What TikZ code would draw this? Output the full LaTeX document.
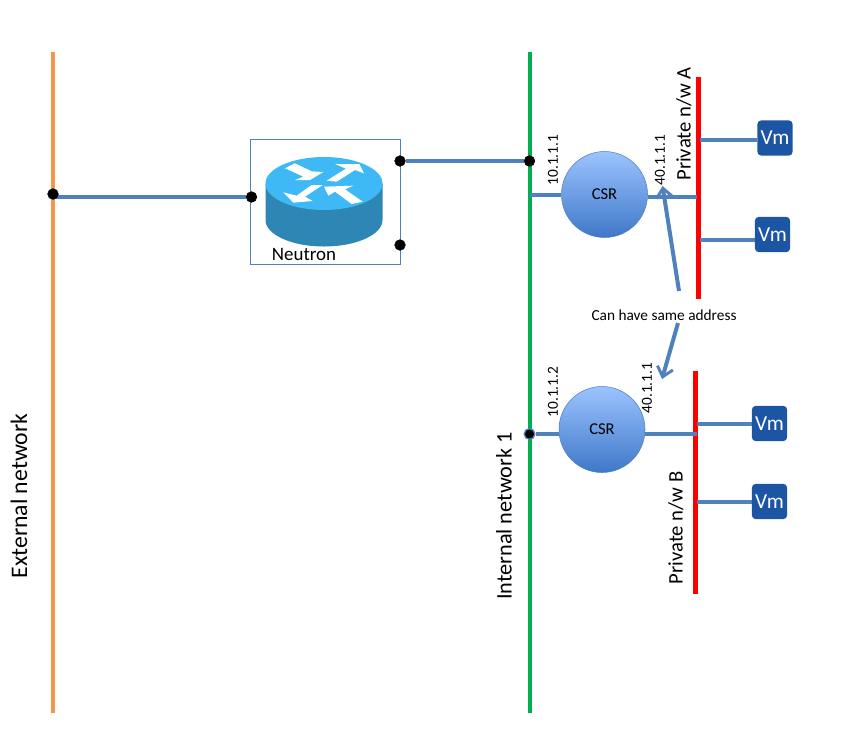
\documentclass[tikz,border=0pt]{standalone}
\usepackage{fontspec}
\setmainfont{Carlito}
\usetikzlibrary{arrows.meta, positioning, backgrounds}
\definecolor{linkblue}{HTML}{4F81BD}
\definecolor{vmblue}{HTML}{1B55A3}
\definecolor{busorange}{HTML}{F79646}
\definecolor{busgreen}{HTML}{00B050}
\definecolor{csrtop}{HTML}{9CC3FF}
\definecolor{csrbot}{HTML}{3F78C8}
\definecolor{routerside}{HTML}{2D86B4}
\definecolor{routertop}{HTML}{3EB9F5}
\tikzset{
  bus/.style={line width=3pt},
  privbus/.style={line width=3.75pt, red},
  link/.style={line width=3pt, draw=linkblue},
  dot/.style={circle, fill=black, draw=black, inner sep=0pt, minimum size=8pt},
  csr/.style={circle, draw=linkblue, minimum size=64.5pt, inner sep=0pt, top color=csrtop, bottom color=csrbot, font=\fontsize{12.4pt}{14pt}\selectfont},
  vm/.style={rounded corners=3pt, fill=vmblue, text=white, minimum width=26.5pt, minimum height=26.5pt, inner sep=0pt, font=\fontsize{16pt}{18pt}\selectfont},
  addr/.style={rotate=90, inner sep=0pt, font=\fontsize{11.5pt}{13pt}\selectfont},
  netname/.style={rotate=90, inner sep=0pt},
  note/.style={line width=3pt, draw=linkblue, -{Straight Barb[length=7pt,width=12pt,line width=2.2pt]}}
}
\begin{document}
\begin{tikzpicture}[x=0.75pt,y=-0.75pt]
\useasboundingbox (0,0) rectangle (848,736);
% router
\node[draw=linkblue, minimum width=112.5pt, minimum height=93.4pt, inner sep=0pt] (neutron) at (325.5,201.75) {};
\fill[routerside] (265.5,183.5) -- (265.5,220) arc[start angle=180, end angle=0, x radius=58.5, y radius=26.5] -- (382.5,183.5) -- cycle;
\fill[routertop] (324,183.5) ellipse[x radius=58.5, y radius=26.5];
\begin{scope}[shift={(240,130)}, x=0.25pt, y=-0.25pt]
\fill[white] (135,115) -- (165,100) -- (215,124) -- (250,126) -- (210,150) -- (165,150) -- (190,140) -- cycle;
\fill[white] (260,152) -- (318,116) -- (285,102) -- (358,102) -- (372,130) -- (345,120) -- (290,155) -- cycle;
\fill[white] (248,165) -- (195,200) -- (218,213) -- (160,218) -- (130,187) -- (170,197) -- (215,165) -- cycle;
\fill[white] (252,170) -- (340,167) -- (315,178) -- (368,215) -- (335,222) -- (285,185) -- (265,197) -- cycle;
\end{scope}
\node[inner sep=0pt, font=\fontsize{14.2pt}{16pt}\selectfont] (neutronlabel) at (304,254) {Neutron};

% dots
\node[dot] (extdot) at (53,194) {};
\node[dot] (neutronw) at (251.5,197) {};
\node[dot] (neutronne) at (400,161) {};
\node[dot] (neutronse) at (400,245) {};
\node[dot] (intdota) at (529.5,161) {};
\node[dot, draw=linkblue, line width=1pt] (intdotb) at (529.5,434) {};

% csr
\node[csr] (csra) at (604.5,194.5) {CSR};
\node[csr] (csrb) at (602,429.5) {CSR};

% vm
\node[vm] (vma) at (775,138) {Vm};
\node[vm] (vmb) at (772.5,234.5) {Vm};
\node[vm] (vmc) at (769.5,423.5) {Vm};
\node[vm] (vmd) at (769.5,501.5) {Vm};

% networks
\coordinate (exttop) at (53,52);
\coordinate (extbot) at (53,713);
\coordinate (inttop) at (529.5,52);
\coordinate (intbot) at (529.5,713);
\coordinate (privatop) at (698.5,77);
\coordinate (privabot) at (698.5,299);
\coordinate (privbtop) at (695.5,371);
\coordinate (privbbot) at (695.5,594);
\coordinate (inta) at (529.5,194.5);
\coordinate (extjoin) at (53,197);
\coordinate (privain) at (697,196.5);
\coordinate (privbin) at (697,434);
\coordinate (vmaleft) at (700,140);
\coordinate (vmbleft) at (700,240);
\coordinate (vmcleft) at (697,424);
\coordinate (vmdleft) at (697,502);

% links
\begin{scope}[on background layer]
\draw[bus, busorange] (exttop) -- (extbot);
\draw[bus, busgreen] (inttop) -- (intbot);
\draw[privbus] (privatop) -- (privabot);
\draw[privbus] (privbtop) -- (privbbot);
\draw[link] (extjoin) -- (neutronw);
\draw[link] (neutronne) -- (intdota);
\draw[link] (inta) -- (csra);
\draw[link] (csra.east |- privain) -- (privain);
\draw[link] (intdotb) -- (csrb.west |- intdotb);
\draw[link] (csrb.east |- privbin) -- (privbin);
\draw[link] (vmaleft) -- (vma.west |- vmaleft);
\draw[link] (vmbleft) -- (vmb.west |- vmbleft);
\draw[link] (vmcleft) -- (vmc.west |- vmcleft);
\draw[link] (vmdleft) -- (vmd.west |- vmdleft);
\end{scope}

% texts
\node[netname, font=\fontsize{17.8pt}{20pt}\selectfont] (extname) at (19,496) {External network};
\node[netname, font=\fontsize{16.7pt}{19pt}\selectfont] (intname) at (504,516) {Internal network 1};
\node[netname, font=\fontsize{15.5pt}{18pt}\selectfont] (privaname) at (684,124) {Private n/w A};
\node[netname, font=\fontsize{15.5pt}{18pt}\selectfont] (privbname) at (676,528) {Private n/w B};
\node[addr] (addra) at (553,160) {10.1.1.1};
\node[addr] (addrb) at (660,160) {40.1.1.1};
\node[addr] (addrc) at (553,392) {10.1.1.2};
\node[addr] (addrd) at (647,388) {40.1.1.1};

% note
\node[inner sep=0pt, font=\fontsize{11.5pt}{13pt}\selectfont] (samenote) at (664,315) {Can have same address};
\coordinate (notea) at (679,291);
\coordinate (noteatip) at (662.5,186);
\coordinate (noteb) at (678,323);
\coordinate (notebtip) at (662,379);
\draw[note] (notea) -- (noteatip);
\draw[note] (noteb) -- (notebtip);
\end{tikzpicture}
\end{document}
